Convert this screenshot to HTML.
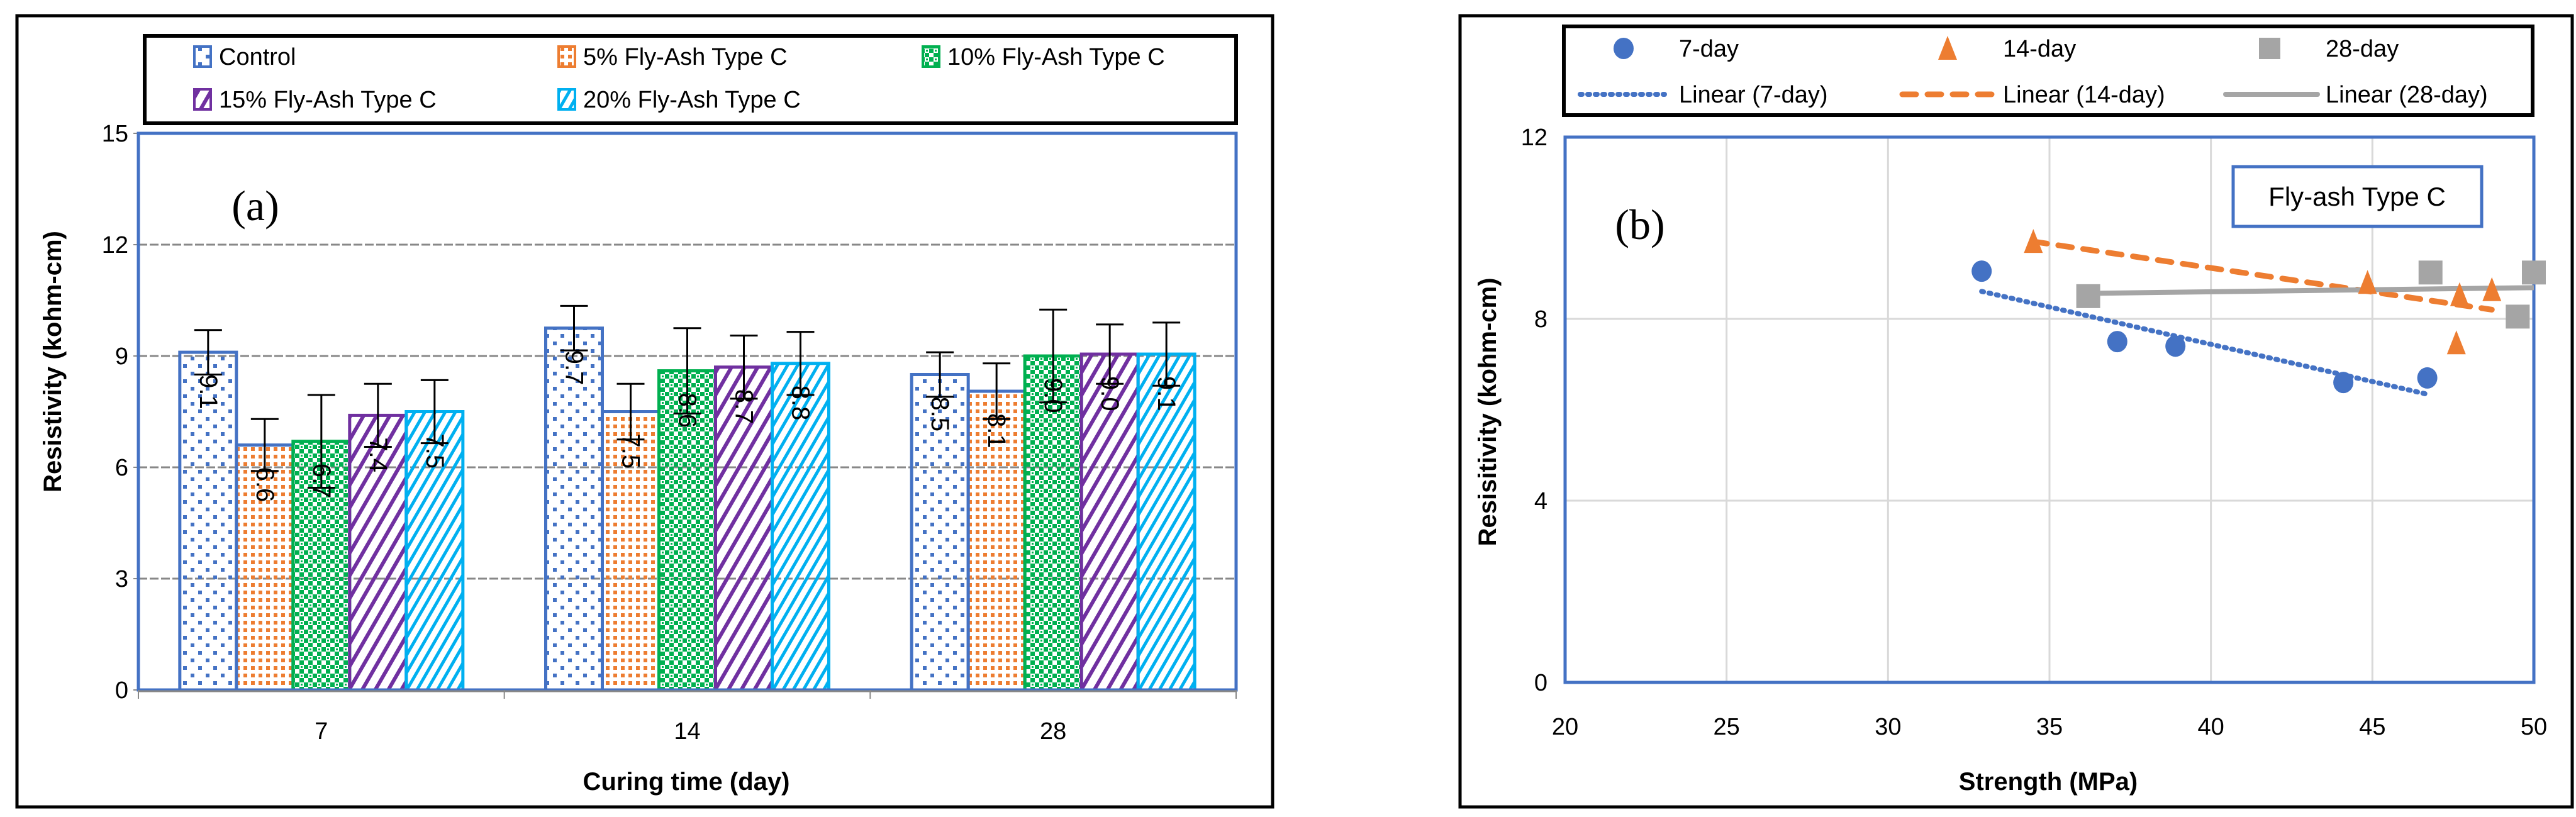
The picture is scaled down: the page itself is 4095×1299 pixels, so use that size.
<!DOCTYPE html>
<html><head><meta charset="utf-8"><style>
html,body{margin:0;padding:0;background:#fff;}
svg{display:block;font-family:"Liberation Sans",sans-serif;}
</style></head><body>
<svg id="root" width="4095" height="1299" viewBox="0 0 4095 1299" xmlns="http://www.w3.org/2000/svg">
<defs>
<pattern id="pCtrl" width="24" height="24" patternUnits="userSpaceOnUse"><rect x="3" y="3" width="6" height="6" fill="#4472C4"/><rect x="15" y="15" width="6" height="6" fill="#4472C4"/></pattern>
<pattern id="p5" width="12" height="12" patternUnits="userSpaceOnUse"><rect x="3" y="3" width="6" height="6" fill="#ED7D31"/></pattern>
<pattern id="p10" width="14" height="14" patternUnits="userSpaceOnUse"><rect x="0" y="0" width="7" height="7" fill="#00B050"/><rect x="7" y="7" width="7" height="7" fill="#00B050"/><rect x="2" y="9" width="3" height="3" fill="#00B050"/></pattern>
<pattern id="p15" width="18" height="18" patternUnits="userSpaceOnUse" patternTransform="rotate(30)"><rect x="0" y="0" width="6" height="18" fill="#7030A0"/></pattern>
<pattern id="p20" width="14" height="14" patternUnits="userSpaceOnUse" patternTransform="rotate(30)"><rect x="0" y="0" width="5" height="14" fill="#00B0F0"/></pattern>
</defs>
<g id="chartA"></g>
<g id="chartB"></g>
</svg>
<script>
// ---- Chart A data ----
const categoriesA = ["7", "14", "28"];
const seriesNamesA = ["Control", "5% Fly-Ash Type C", "10% Fly-Ash Type C", "15% Fly-Ash Type C", "20% Fly-Ash Type C"];
const control = [9.1, 9.75, 8.5];
const fa5 = [6.6, 7.5, 8.05];
const fa10 = [6.7, 8.6, 9.0];
const fa15 = [7.4, 8.7, 9.05];
const fa20 = [7.5, 8.8, 9.05];
const errTopA = [[9.7,10.35,9.1],[7.3,8.25,8.8],[7.95,9.75,10.25],[8.25,9.55,9.85],[8.35,9.65,9.9]];
const labelsA = [["9.1","9.7","8.5"],["6.6","7.5","8.1"],["6.7","8.6","9.0"],["7.4","8.7","9.0"],["7.5","8.8","9.1"]];
const yTicksA = [0, 3, 6, 9, 12, 15];
// ---- Chart B data ----
const x7 = [32.9, 37.1, 38.9, 44.1, 46.7];
const y7 = [9.05, 7.5, 7.4, 6.6, 6.7];
const x14 = [34.5, 44.85, 47.6, 47.7, 48.7];
const y14 = [9.7, 8.8, 7.47, 8.53, 8.64];
const x28 = [36.2, 46.8, 49.5, 50.0];
const y28 = [8.5, 9.02, 8.05, 9.02];
const xTicksB = [20, 25, 30, 35, 40, 45, 50];
const yTicksB = [0, 4, 8, 12];

const NS = "http://www.w3.org/2000/svg";
function mk(parent, tag, attrs, text){
  const e = document.createElementNS(NS, tag);
  for (const k in attrs) e.setAttribute(k, attrs[k]);
  if (text !== undefined) e.textContent = text;
  parent.appendChild(e);
  return e;
}
// ================= Chart A =================
const A = document.getElementById('chartA');
const aL=220, aR=1965, aT=212, aB=1097, aMax=15;
const ya = v => aB - v/aMax*(aB-aT);
const groupW = (aR-aL)/categoriesA.length, barW = 90;
const fills = ["url(#pCtrl)","url(#p5)","url(#p10)","url(#p15)","url(#p20)"];
const strokes = ["#4472C4","#4472C4","#00B050","#7030A0","#00B0F0"];
const legendSw = ["#4472C4","#ED7D31","#00B050","#7030A0","#00B0F0"];
const seriesA = [control, fa5, fa10, fa15, fa20];
let e;
e = mk(A,'rect',{x:27,y:25,width:1996,height:1258,fill:'#fff',stroke:'#000','stroke-width':5});


// gridlines
yTicksA.forEach(t=>{
  if(t>0 && t<15){
    const g = mk(A,'line',{x1:aL,x2:aR,y1:ya(t),y2:ya(t),stroke:'#888','stroke-width':3,'stroke-dasharray':'14 4'});
    
    
  }
  const tl = mk(A,'text',{x:aL-16,y:ya(t)+13,'text-anchor':'end','font-size':38,fill:'#000'},String(t));
  
  
  const tk = mk(A,'line',{x1:aL-8,x2:aL,y1:ya(t),y2:ya(t),stroke:'#888','stroke-width':2});
  
  
});
// bars
seriesA.forEach((arr,s)=>{
  arr.forEach((v,c)=>{
    const x = aL + c*groupW + (groupW-5*barW)/2 + s*barW;
    const b = mk(A,'rect',{x:x,y:ya(v),width:barW,height:aB-ya(v),fill:fills[s],stroke:strokes[s],'stroke-width':5});
    
    
    const cx = x+barW/2, et = errTopA[s][c], d = et - v;
    const el = mk(A,'path',{d:`M${cx} ${ya(et)} V${ya(v-d)} M${cx-22} ${ya(et)} H${cx+22} M${cx-22} ${ya(v-d)} H${cx+22}`,stroke:'#000','stroke-width':3,fill:'none'});
    
    
    const ly = ya(v)+35;
    const lb = mk(A,'text',{x:cx,y:ly,transform:`rotate(90 ${cx} ${ly})`,'font-size':40,'dominant-baseline':'central',fill:'#000'},labelsA[s][c]);
    
    
  });
});
e = mk(A,'rect',{x:aL,y:aT,width:aR-aL,height:aB-aT,fill:'none',stroke:'#4472C4','stroke-width':5});


e = mk(A,'line',{x1:aL,x2:aR,y1:aB+2,y2:aB+2,stroke:'#888','stroke-width':3});


categoriesA.forEach((c,i)=>{
  const t = mk(A,'line',{x1:aL+i*groupW,x2:aL+i*groupW,y1:aB,y2:aB+14,stroke:'#888','stroke-width':2});
  
  
  const l = mk(A,'text',{x:aL+(i+0.5)*groupW,y:1175,'text-anchor':'middle','font-size':38},c);
  
  
});
e = mk(A,'line',{x1:aR,x2:aR,y1:aB,y2:aB+14,stroke:'#888','stroke-width':2});


e = mk(A,'text',{x:1091,y:1256,'text-anchor':'middle','font-size':40,'font-weight':'bold'},'Curing time (day)');


e = mk(A,'text',{x:84,y:575,'text-anchor':'middle','font-size':40,'font-weight':'bold',transform:'rotate(-90 84 575)','dominant-baseline':'central'},'Resistivity (kohm-cm)');


e = mk(A,'text',{x:406,y:350,'text-anchor':'middle','font-size':68,'font-family':'Liberation Serif, serif'},'(a)');


// legend A
e = mk(A,'rect',{x:230,y:57,width:1735,height:139,fill:'#fff',stroke:'#000','stroke-width':6});


const legPos = [[322,90],[901,90],[1480,90],[322,158],[901,158]];
seriesNamesA.forEach((n,s)=>{
  const [lx,ly]=legPos[s];
  const sw = mk(A,'rect',{x:lx-13,y:ly-16,width:26,height:32,fill:fills[s],stroke:legendSw[s],'stroke-width':4});
  
  
  const t = mk(A,'text',{x:lx+26,y:ly+13,'font-size':38},n);
  
  
});

// ================= Chart B =================
const B = document.getElementById('chartB');
const bL=2488, bR=4028, bT=218, bB=1085;
const xb = v => bL + (v-20)/30*(bR-bL);
const yb = v => bB - v/12*(bB-bT);
e = mk(B,'rect',{x:2321,y:25,width:1768,height:1258,fill:'#fff',stroke:'#000','stroke-width':5});


xTicksB.forEach(t=>{
  const g = mk(B,'line',{x1:xb(t),x2:xb(t),y1:bT,y2:bB,stroke:'#D9D9D9','stroke-width':3});
  
  
  const l = mk(B,'text',{x:xb(t),y:1168,'text-anchor':'middle','font-size':38},String(t));
  
  
});
yTicksB.forEach(t=>{
  const g = mk(B,'line',{x1:bL,x2:bR,y1:yb(t),y2:yb(t),stroke:'#D9D9D9','stroke-width':3});
  
  
  const l = mk(B,'text',{x:bL-28,y:yb(t)+13,'text-anchor':'end','font-size':38},String(t));
  
  
});
e = mk(B,'rect',{x:bL,y:bT,width:bR-bL,height:bB-bT,fill:'none',stroke:'#4472C4','stroke-width':5});


function fit(xs,ys){
  const n=xs.length, mx=xs.reduce((a,b)=>a+b)/n, my=ys.reduce((a,b)=>a+b)/n;
  let sxy=0,sxx=0; xs.forEach((x,i)=>{sxy+=(x-mx)*(ys[i]-my); sxx+=(x-mx)*(x-mx);});
  const m=sxy/sxx; return [m, my-m*mx];
}
const trendStyles = [
  {xs:x7,ys:y7,stroke:'#4472C4',w:8,dash:'3 9',cap:'round',name:'trendline-7-day'},
  {xs:x14,ys:y14,stroke:'#ED7D31',w:9,dash:'22 18',cap:'round',name:'trendline-14-day'},
  {xs:x28,ys:y28,stroke:'#A5A5A5',w:8,dash:'none',cap:'butt',name:'trendline-28-day'}
];
trendStyles.forEach(ts=>{
  const [m,b] = fit(ts.xs,ts.ys);
  const x0=Math.min(...ts.xs), x1=Math.max(...ts.xs);
  const ln = mk(B,'line',{x1:xb(x0),y1:yb(m*x0+b),x2:xb(x1),y2:yb(m*x1+b),stroke:ts.stroke,'stroke-width':ts.w,'stroke-dasharray':ts.dash,'stroke-linecap':ts.cap});
  
  
});
x7.forEach((x,i)=>{
  const c = mk(B,'ellipse',{cx:xb(x),cy:yb(y7[i]),rx:16,ry:17,fill:'#4472C4'});
  
  
});
x14.forEach((x,i)=>{
  const cx=xb(x), cy=yb(y14[i]);
  const p = mk(B,'polygon',{points:`${cx},${cy-20} ${cx+15},${cy+18} ${cx-15},${cy+18}`,fill:'#ED7D31'});
  
  
});
x28.forEach((x,i)=>{
  const r = mk(B,'rect',{x:xb(x)-19,y:yb(y28[i])-19,width:38,height:38,fill:'#A5A5A5'});
  
  
});
e = mk(B,'rect',{x:3550,y:265,width:395,height:95,fill:'#fff',stroke:'#4472C4','stroke-width':5});


e = mk(B,'text',{x:3747,y:327,'text-anchor':'middle','font-size':42},'Fly-ash Type C');


e = mk(B,'text',{x:2607,y:380,'text-anchor':'middle','font-size':68,'font-family':'Liberation Serif, serif'},'(b)');


e = mk(B,'text',{x:3256,y:1256,'text-anchor':'middle','font-size':40,'font-weight':'bold'},'Strength (MPa)');


e = mk(B,'text',{x:2365,y:655,'text-anchor':'middle','font-size':40,'font-weight':'bold',transform:'rotate(-90 2365 655)','dominant-baseline':'central'},'Resisitivity (kohm-cm)');


// legend B
e = mk(B,'rect',{x:2486,y:42,width:1540,height:141,fill:'#fff',stroke:'#000','stroke-width':6});


e = mk(B,'ellipse',{cx:2581,cy:77,rx:16,ry:17,fill:'#4472C4'});


e = mk(B,'polygon',{points:'3096,57 3111,95 3081,95',fill:'#ED7D31'});


e = mk(B,'rect',{x:3591,y:60,width:34,height:34,fill:'#A5A5A5'});


const legB = [["7-day",2669,90],["14-day",3184,90],["28-day",3697,90],["Linear (7-day)",2669,163],["Linear (14-day)",3184,163],["Linear (28-day)",3697,163]];
legB.forEach(l=>{
  const t = mk(B,'text',{x:l[1],y:l[2],'font-size':38},l[0]);
  
  
});
e = mk(B,'line',{x1:2512,x2:2646,y1:150,y2:150,stroke:'#4472C4','stroke-width':8,'stroke-dasharray':'3 9','stroke-linecap':'round'});


e = mk(B,'line',{x1:3024,x2:3166,y1:150,y2:150,stroke:'#ED7D31','stroke-width':9,'stroke-dasharray':'22 18','stroke-linecap':'round'});


e = mk(B,'line',{x1:3538,x2:3684,y1:150,y2:150,stroke:'#A5A5A5','stroke-width':8,'stroke-linecap':'round'});


</script>
</body></html>
